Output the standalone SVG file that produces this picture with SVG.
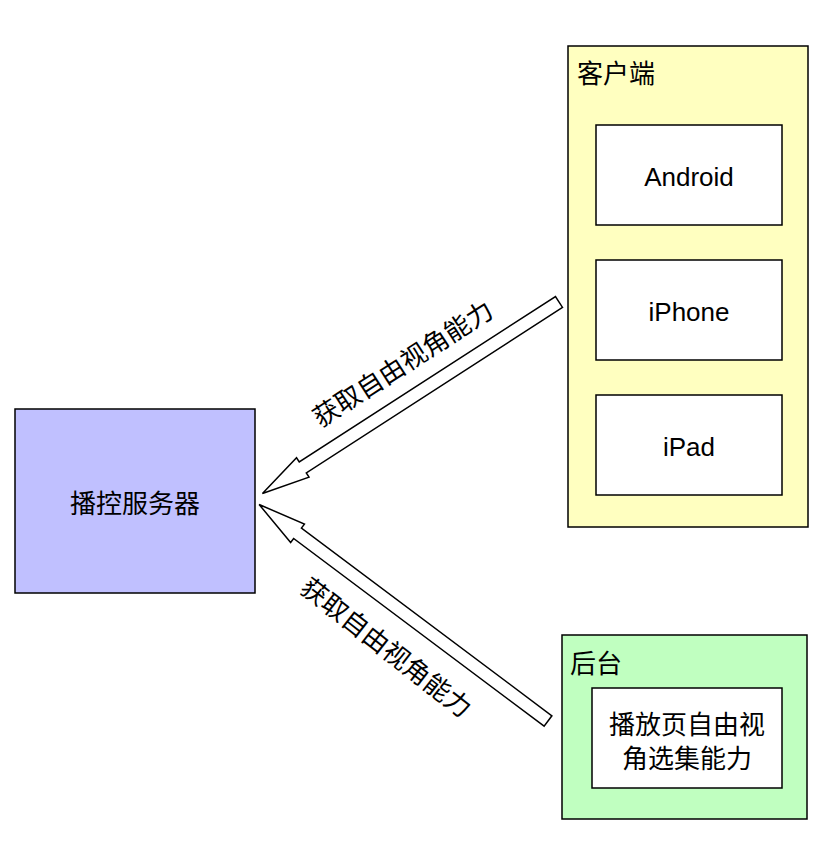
<svg xmlns="http://www.w3.org/2000/svg" width="832" height="852" viewBox="0 0 832 852">
<style>
  .box { stroke: #000; stroke-width: 1.5; }
  .inner { fill: #fff; stroke: #000; stroke-width: 1.5; }
  .t { font-family: "Liberation Sans", "Noto Sans CJK SC", sans-serif; font-size: 26px; fill: #000; }
  .c { text-anchor: middle; }
  .arrow { fill: #fff; stroke: #000; stroke-width: 1.5; stroke-linejoin: miter; }
</style>
<rect width="832" height="852" fill="#fff"/>
<g id="server">
  <rect class="box" x="15" y="409" width="240" height="184" fill="#C0C0FF"/>
  <text class="t c" x="135" y="513">播控服务器</text>
</g>
<g id="client">
  <rect class="box" x="568" y="46" width="240" height="481" fill="#FFFFC0"/>
  <text class="t" x="577" y="83">客户端</text>
</g>
<g id="android">
  <rect class="inner" x="596" y="125" width="186" height="100"/>
  <text class="t c" x="689" y="186">Android</text>
</g>
<g id="iphone">
  <rect class="inner" x="596" y="260" width="186" height="100"/>
  <text class="t c" x="689" y="321">iPhone</text>
</g>
<g id="ipad">
  <rect class="inner" x="596" y="395" width="186" height="100"/>
  <text class="t c" x="689" y="456">iPad</text>
</g>
<g id="backend">
  <rect class="box" x="562" y="635" width="245" height="184" fill="#C0FFC0"/>
  <text class="t" x="570" y="673">后台</text>
</g>
<g id="backend-ability">
  <rect class="inner" x="592" y="688" width="190" height="100"/>
  <text class="t c" x="687" y="734">播放页自由视</text>
  <text class="t c" x="687" y="768">角选集能力</text>
</g>
<g id="connectors">
  <g transform="translate(559,302) rotate(147.15)">
    <polygon class="arrow" points="0,-6.5 305,-6.5 305,-11.5 353,0 305,11.5 305,6.5 0,6.5"/>
  </g>
  <g transform="translate(548,721) rotate(-143.15)">
    <polygon class="arrow" points="0,-6.5 313,-6.5 313,-11.5 361,0 313,11.5 313,6.5 0,6.5"/>
  </g>
  <text class="t c" dominant-baseline="central" transform="translate(403,364) rotate(-32.85)">获取自由视角能力</text>
  <text class="t c" dominant-baseline="central" transform="translate(386,648) rotate(38)">获取自由视角能力</text>
</g>
</svg>
